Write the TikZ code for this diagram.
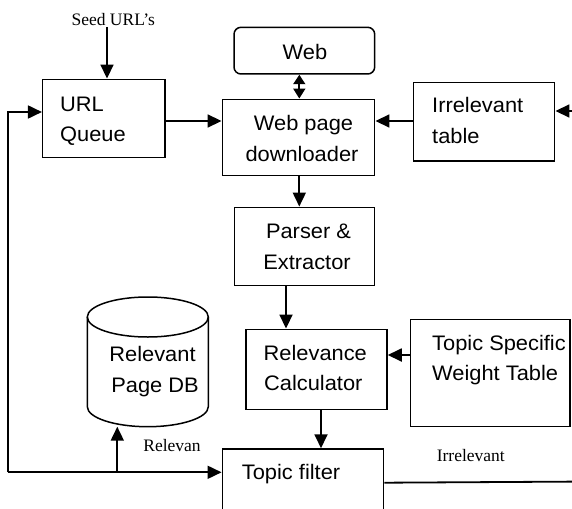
\documentclass[tikz,border=0pt]{standalone}
\usepackage{fontspec}
\setmainfont{Liberation Serif}
\newfontfamily\boxfnt[FakeStretch=1.04]{Liberation Sans}
\usetikzlibrary{arrows.meta}
\tikzset{
  box/.style={draw, line width=1.5pt, inner sep=0pt, rectangle},
  wire/.style={line width=1.8pt},
  arr/.style={wire, -{Triangle[length=14pt,width=13pt]}},
  darr/.style={wire, {Triangle[length=9.5pt,width=12pt]}-{Triangle[length=10pt,width=12pt]}},
  btxt/.style={inner sep=0pt, font=\boxfnt\fontsize{21}{25}\selectfont},
  stxt/.style={inner sep=0pt, font=\fontsize{17.5}{21}\selectfont}
}
\begin{document}
\begin{tikzpicture}[x=1pt,y=-1pt]
\useasboundingbox (0,0) rectangle (572,508);
\clip (0,0) rectangle (572,508);
% boxes
\node[box, minimum width=122.3pt, minimum height=78pt] (q) at (103.85,118.3) {};
\node[box, minimum width=152.4pt, minimum height=76.4pt] (dl) at (298.5,137.5) {};
\node[box, rounded corners=7pt, minimum width=140.7pt, minimum height=46.7pt] (web) at (304.35,50.65) {};
\node[box, minimum width=141pt, minimum height=78.3pt] (it) at (484.2,121.85) {};
\node[box, minimum width=140.4pt, minimum height=78.4pt] (ps) at (304.5,246.5) {};
\node[box, minimum width=141pt, minimum height=80.4pt] (rc) at (316.5,369.5) {};
\node[box, minimum width=159.7pt, minimum height=107pt] (tw) at (490.15,373.2) {};
\node[box, minimum width=161.4pt, minimum height=66pt] (tf) at (303,482) {};
% cylinder (Relevant Page DB)
\draw[line width=1.5pt] (87.3,317) -- (87.3,406.7)
  arc[start angle=180, end angle=360, x radius=60.5pt, y radius=20pt] -- (208.3,317);
\draw[line width=1.5pt] (147.8,317) ellipse [x radius=60.5pt, y radius=20pt];
\coordinate (dbbot) at (117.3,426.7);
% box texts
\node[btxt, anchor=base west] (qt1) at (60,111) {URL};
\node[btxt, anchor=base west] (qt2) at (60,141.7) {Queue};
\node[btxt, anchor=base] (wt) at (305,59.3) {Web};
\node[btxt, anchor=base] (dt1) at (303.5,130.7) {Web page};
\node[btxt, anchor=base] (dt2) at (302,161.7) {downloader};
\node[btxt, anchor=base west] (it1) at (432,112.7) {Irrelevant};
\node[btxt, anchor=base west] (it2) at (432,143.3) {table};
\node[btxt, anchor=base] (pt1) at (308.5,238.3) {Parser \&};
\node[btxt, anchor=base] (pt2) at (307,269) {Extractor};
\node[btxt, anchor=base] (rt1) at (315.3,360) {Relevance};
\node[btxt, anchor=base] (rt2) at (313.3,390.7) {Calculator};
\node[btxt, anchor=base west] (tt1) at (432,350.7) {Topic Specific};
\node[btxt, anchor=base west] (tt2) at (432,380.7) {Weight Table};
\node[btxt, anchor=base] (db1) at (152.5,361.3) {Relevant};
\node[btxt, anchor=base] (db2) at (155,392.3) {Page DB};
\node[btxt, anchor=base west] (tft) at (241.7,479) {Topic filter};
% serif labels
\node[stxt, anchor=base] (seed) at (113.3,26) {Seed URL’s};
\node[stxt, anchor=base] (rel) at (172,451.7) {Relevan};
\node[stxt, anchor=base] (irr) at (470.8,461.7) {Irrelevant};
% connectors
\coordinate (seedc) at (107,27);
\draw[arr] (seedc) -- (seedc |- q.north);
\draw[arr] (q.east |- 0,121) -- (dl.west |- 0,121);
\draw[arr] (it.west |- 0,121) -- (dl.east |- 0,121);
\coordinate (rin) at (574,111);
\draw[arr] (rin) -- (it.east |- rin);
\coordinate (wx) at (299.3,0);
\draw[darr] (web.south -| wx) -- (dl.north -| wx);
\draw[arr] (dl.south -| wx) -- (ps.north -| wx);
\coordinate (px) at (286,0);
\draw[arr] (ps.south -| px) -- (rc.north -| px);
\draw[arr] (tw.west |- 0,355) -- (rc.east |- 0,355);
\coordinate (rx) at (321,0);
\draw[arr] (rc.south -| rx) -- (tf.north -| rx);
\coordinate (irrout) at (574,481.6);
\draw[wire] (tf.east |- 0,482.7) -- (irrout);
\coordinate (fb) at (8,472.3);
\draw[arr] (fb) |- (q.west |- 0,112);
\draw[arr] (fb) -- (tf.west |- fb);
\coordinate (br) at (117.3,472.3);
\draw[arr] (br) -- (dbbot);
\end{tikzpicture}
\end{document}
